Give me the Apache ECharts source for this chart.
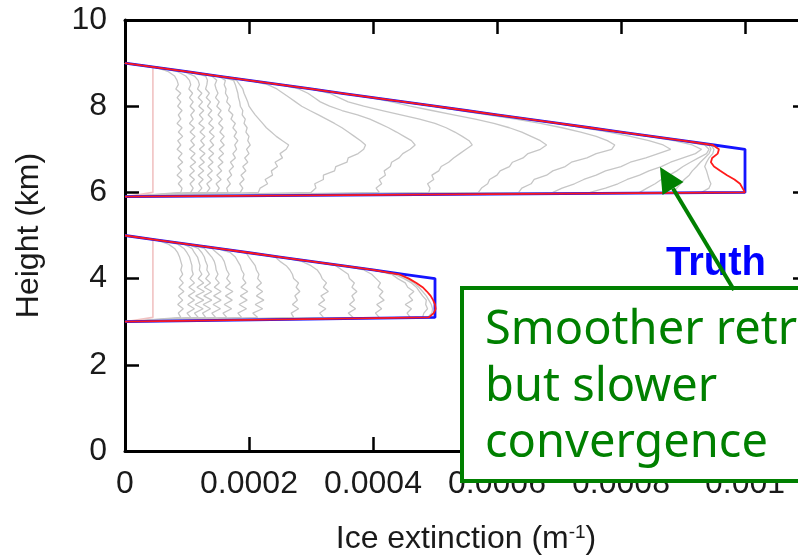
<!DOCTYPE html>
<html>
<head>
<meta charset="utf-8">
<script src="https://cdn.jsdelivr.net/npm/echarts@6/dist/echarts.min.js"></script>
<style>
  html, body { margin: 0; padding: 0; background: #ffffff; overflow: hidden; }
  /* canvas is a bit wider than the window: the plot frame continues past the right edge */
  #chart { width: 830px; height: 560px; }
</style>
</head>
<body>
<div id="chart"></div>
<script>
// Extinction values are in units of 1e-4 m^-1; heights in km.

// ---- Upper cloud layer (5.9 - 9.0 km) ----
const heightsUpper = [5.9, 6.0, 6.1, 6.2, 6.3, 6.4, 6.5, 6.6, 6.7, 6.8, 6.9, 7.0,
  7.1, 7.2, 7.3, 7.4, 7.5, 7.6, 7.7, 7.8, 7.9, 8.0,
  8.1, 8.2, 8.3, 8.4, 8.5, 8.6, 8.7, 8.8, 8.9, 9.0];

const truthUpper = [0, 10, 10, 10, 10, 10, 10, 10, 10, 10, 10, 10,
  9.5, 9.0, 8.5, 8.0, 7.5, 7.0, 6.5, 6.0, 5.5, 5.0,
  4.5, 4.0, 3.5, 3.0, 2.5, 2.0, 1.5, 1.0, 0.5, 0];

const retrievalUpper = [0, 10.0, 9.96, 9.92, 9.83, 9.71, 9.6, 9.5, 9.45, 9.47, 9.56, 9.58,
  9.48, 9.0, 8.5, 8.0, 7.5, 7.0, 6.5, 6.0, 5.5, 5.0,
  4.5, 4.0, 3.5, 3.0, 2.5, 2.0, 1.5, 1.0, 0.5, 0];

const firstGuessUpper = [0, 0.45, 0.45, 0.45, 0.45, 0.45, 0.45, 0.45, 0.45, 0.45, 0.45, 0.45,
  0.45, 0.45, 0.45, 0.45, 0.45, 0.45, 0.45, 0.45, 0.45, 0.45,
  0.45, 0.45, 0.45, 0.45, 0.45, 0.45, 0.45, 0.45, 0.45, 0];

const iterUpper1 = [0, 0.9, 0.92, 0.86, 0.92, 0.84, 0.91, 0.85, 0.93, 0.86, 0.92, 0.84,
  0.9, 0.85, 0.93, 0.86, 0.92, 0.84, 0.9, 0.86, 0.92, 0.85,
  0.9, 0.84, 0.9, 0.82, 0.86, 0.84, 0.8, 0.7, 0.5, 0];
const iterUpper2 = [0, 1.06, 1.1, 1.05, 1.12, 1.04, 1.12, 1.05, 1.14, 1.06, 1.13, 1.04,
  1.12, 1.06, 1.13, 1.05, 1.12, 1.04, 1.1, 1.06, 1.12, 1.05,
  1.1, 1.04, 1.09, 1.03, 1.06, 1.04, 0.98, 0.85, 0.5, 0];
const iterUpper3 = [0, 1.18, 1.24, 1.19, 1.26, 1.18, 1.27, 1.19, 1.28, 1.21, 1.29, 1.2,
  1.28, 1.22, 1.29, 1.21, 1.28, 1.19, 1.26, 1.2, 1.27, 1.19,
  1.25, 1.18, 1.24, 1.17, 1.2, 1.18, 1.12, 0.95, 0.5, 0];
const iterUpper4 = [0, 1.32, 1.37, 1.32, 1.4, 1.33, 1.41, 1.34, 1.42, 1.35, 1.43, 1.35,
  1.43, 1.37, 1.44, 1.36, 1.43, 1.35, 1.41, 1.34, 1.4, 1.33,
  1.38, 1.31, 1.36, 1.3, 1.32, 1.33, 1.3, 1.0, 0.5, 0];
const iterUpper5 = [0, 1.48, 1.52, 1.47, 1.55, 1.48, 1.56, 1.5, 1.58, 1.51, 1.59, 1.52,
  1.6, 1.54, 1.6, 1.53, 1.58, 1.51, 1.57, 1.5, 1.55, 1.48,
  1.52, 1.46, 1.5, 1.47, 1.45, 1.48, 1.4, 1.0, 0.5, 0];
const iterUpper6 = [0, 1.66, 1.64, 1.7, 1.65, 1.72, 1.68, 1.75, 1.7, 1.78, 1.74, 1.8,
  1.77, 1.82, 1.76, 1.8, 1.74, 1.78, 1.71, 1.74, 1.67, 1.7,
  1.64, 1.66, 1.62, 1.63, 1.6, 1.62, 1.5, 1.0, 0.5, 0];
const iterUpper7 = [0, 1.86, 1.9, 1.85, 1.92, 1.87, 1.95, 1.9, 1.98, 1.93, 2.0, 1.96,
  2.02, 1.98, 2.0, 1.95, 1.97, 1.92, 1.94, 1.89, 1.9, 1.86,
  1.85, 1.83, 1.82, 1.8, 1.78, 1.75, 1.5, 1.0, 0.5, 0];
const iterUpper8 = [0, 2.15, 2.18, 2.3, 2.26, 2.38, 2.36, 2.46, 2.42, 2.54, 2.5, 2.6,
  2.64, 2.54, 2.44, 2.36, 2.28, 2.22, 2.16, 2.1, 2.05, 2.0,
  1.98, 1.95, 1.92, 1.9, 1.85, 1.8, 1.5, 1.0, 0.5, 0];
const iterUpper9 = [0, 3.0, 3.08, 3.06, 3.2, 3.2, 3.38, 3.4, 3.58, 3.6, 3.76, 3.85,
  3.88, 3.8, 3.7, 3.6, 3.5, 3.38, 3.25, 3.12, 2.98, 2.85,
  2.75, 2.65, 2.55, 2.45, 2.3, 2.0, 1.5, 1.0, 0.5, 0];
const iterUpper10 = [0, 4.1, 4.05, 4.14, 4.1, 4.2, 4.18, 4.28, 4.3, 4.42, 4.48, 4.6,
  4.68, 4.62, 4.5, 4.38, 4.25, 4.1, 3.95, 3.75, 3.5, 3.3,
  3.15, 3.05, 2.95, 2.8, 2.5, 2.0, 1.5, 1.0, 0.5, 0];
const iterUpper11 = [0, 4.9, 4.92, 4.88, 4.98, 4.95, 5.06, 5.1, 5.22, 5.3, 5.4, 5.5,
  5.6, 5.55, 5.44, 5.32, 5.18, 5.0, 4.75, 4.45, 4.15, 3.85,
  3.6, 3.45, 3.3, 3.0, 2.5, 2.0, 1.5, 1.0, 0.5, 0];
const iterUpper12 = [0, 5.7, 5.75, 5.85, 5.88, 6.0, 6.05, 6.2, 6.25, 6.42, 6.5, 6.7,
  6.8, 6.7, 6.55, 6.4, 6.2, 5.95, 5.65, 5.3, 4.95, 4.6,
  4.3, 3.95, 3.5, 3.0, 2.5, 2.0, 1.5, 1.0, 0.5, 0];
const iterUpper13 = [0, 6.35, 6.4, 6.55, 6.6, 6.8, 6.9, 7.1, 7.2, 7.45, 7.6, 7.85,
  7.9, 7.78, 7.6, 7.35, 7.05, 6.7, 6.3, 5.85, 5.4, 4.95,
  4.5, 4.0, 3.5, 3.0, 2.5, 2.0, 1.5, 1.0, 0.5, 0];
const iterUpper14 = [0, 6.9, 7.05, 7.25, 7.4, 7.6, 7.75, 8.0, 8.15, 8.4, 8.6, 8.8,
  8.68, 8.45, 8.15, 7.8, 7.4, 6.95, 6.48, 6.0, 5.5, 5.0,
  4.5, 4.0, 3.5, 3.0, 2.5, 2.0, 1.5, 1.0, 0.5, 0];
const iterUpper15 = [0, 7.5, 7.75, 7.95, 8.1, 8.3, 8.45, 8.65, 8.8, 9.0, 9.2, 9.3,
  9.15, 8.85, 8.45, 7.98, 7.5, 7.0, 6.5, 6.0, 5.5, 5.0,
  4.5, 4.0, 3.5, 3.0, 2.5, 2.0, 1.5, 1.0, 0.5, 0];
const iterUpper16 = [0, 8.3, 8.42, 8.55, 8.65, 8.78, 8.9, 9.0, 9.12, 9.25, 9.38, 9.42,
  9.35, 8.95, 8.5, 8.0, 7.5, 7.0, 6.5, 6.0, 5.5, 5.0,
  4.5, 4.0, 3.5, 3.0, 2.5, 2.0, 1.5, 1.0, 0.5, 0];
const iterUpper17 = [0, 8.85, 8.9, 8.96, 9.02, 9.1, 9.15, 9.22, 9.28, 9.35, 9.42, 9.45,
  9.42, 9.0, 8.5, 8.0, 7.5, 7.0, 6.5, 6.0, 5.5, 5.0,
  4.5, 4.0, 3.5, 3.0, 2.5, 2.0, 1.5, 1.0, 0.5, 0];
const iterUpper18 = [0, 9.3, 9.42, 9.45, 9.42, 9.4, 9.38, 9.35, 9.38, 9.42, 9.48, 9.5,
  9.45, 9.0, 8.5, 8.0, 7.5, 7.0, 6.5, 6.0, 5.5, 5.0,
  4.5, 4.0, 3.5, 3.0, 2.5, 2.0, 1.5, 1.0, 0.5, 0];

// ---- Lower cloud layer (3.0 - 5.0 km) ----
const heightsLower = [3.0, 3.1, 3.2, 3.3, 3.4, 3.5, 3.6, 3.7, 3.8, 3.9, 4.0,
  4.1, 4.2, 4.3, 4.4, 4.5, 4.6, 4.7, 4.8, 4.9, 5.0];

const truthLower = [0, 5, 5, 5, 5, 5, 5, 5, 5, 5, 5,
  4.5, 4.0, 3.5, 3.0, 2.5, 2.0, 1.5, 1.0, 0.5, 0];
const retrievalLower = [0, 4.9, 4.98, 5.01, 5.0, 4.97, 4.93, 4.87, 4.8, 4.7, 4.58,
  4.42, 4.0, 3.5, 3.0, 2.5, 2.0, 1.5, 1.0, 0.5, 0];
const firstGuessLower = [0, 0.45, 0.45, 0.45, 0.45, 0.45, 0.45, 0.45, 0.45, 0.45, 0.45,
  0.45, 0.45, 0.45, 0.45, 0.45, 0.45, 0.45, 0.45, 0.45, 0];

const iterLower1 = [0, 0.9, 0.86, 0.94, 0.85, 0.93, 0.86, 0.95, 0.87, 0.94, 0.88,
  0.93, 0.9, 0.92, 0.9, 0.88, 0.85, 0.8, 0.7, 0.5, 0];
const iterLower2 = [0, 1.06, 1.0, 1.12, 1.01, 1.12, 1.02, 1.13, 1.03, 1.12, 1.05,
  1.1, 1.08, 1.08, 1.06, 1.04, 1.0, 0.95, 0.85, 0.5, 0];
const iterLower3 = [0, 1.18, 1.12, 1.26, 1.13, 1.27, 1.14, 1.28, 1.16, 1.27, 1.18,
  1.24, 1.2, 1.21, 1.19, 1.17, 1.12, 1.08, 0.95, 0.5, 0];
const iterLower4 = [0, 1.3, 1.25, 1.38, 1.26, 1.4, 1.27, 1.4, 1.28, 1.38, 1.3,
  1.36, 1.32, 1.33, 1.3, 1.28, 1.24, 1.18, 1.0, 0.5, 0];
const iterLower5 = [0, 1.46, 1.4, 1.54, 1.42, 1.55, 1.43, 1.55, 1.44, 1.52, 1.46,
  1.5, 1.47, 1.46, 1.44, 1.4, 1.34, 1.28, 1.0, 0.5, 0];
const iterLower6 = [0, 1.64, 1.58, 1.72, 1.6, 1.73, 1.62, 1.74, 1.62, 1.7, 1.64,
  1.68, 1.64, 1.62, 1.6, 1.56, 1.48, 1.4, 1.0, 0.5, 0];
const iterLower7 = [0, 1.88, 1.82, 1.96, 1.84, 1.97, 1.86, 1.98, 1.87, 1.95, 1.9,
  1.92, 1.88, 1.86, 1.82, 1.78, 1.7, 1.48, 1.0, 0.5, 0];
const iterLower8 = [0, 2.14, 2.06, 2.22, 2.1, 2.24, 2.12, 2.22, 2.12, 2.2, 2.14,
  2.16, 2.12, 2.1, 2.05, 2.0, 1.95, 1.5, 1.0, 0.5, 0];
const iterLower9 = [0, 2.72, 2.68, 2.8, 2.7, 2.78, 2.74, 2.82, 2.76, 2.8, 2.72,
  2.7, 2.66, 2.6, 2.5, 2.42, 2.0, 1.5, 1.0, 0.5, 0];
const iterLower10 = [0, 3.2, 3.14, 3.24, 3.12, 3.22, 3.16, 3.28, 3.2, 3.25, 3.18,
  3.15, 3.1, 3.0, 2.85, 2.5, 2.0, 1.5, 1.0, 0.5, 0];
const iterLower11 = [0, 3.68, 3.6, 3.72, 3.62, 3.7, 3.66, 3.74, 3.66, 3.7, 3.62,
  3.6, 3.5, 3.4, 3.0, 2.5, 2.0, 1.5, 1.0, 0.5, 0];
const iterLower12 = [0, 4.1, 4.04, 4.14, 4.06, 4.18, 4.1, 4.16, 4.08, 4.12, 4.05,
  3.98, 3.85, 3.5, 3.0, 2.5, 2.0, 1.5, 1.0, 0.5, 0];
const iterLower13 = [0, 4.6, 4.55, 4.62, 4.52, 4.64, 4.58, 4.66, 4.56, 4.52, 4.4,
  4.3, 4.0, 3.5, 3.0, 2.5, 2.0, 1.5, 1.0, 0.5, 0];
const iterLower14 = [0, 4.8, 4.82, 4.88, 4.85, 4.86, 4.8, 4.75, 4.7, 4.62, 4.5,
  4.35, 4.0, 3.5, 3.0, 2.5, 2.0, 1.5, 1.0, 0.5, 0];
const iterLower15 = [0, 4.88, 4.95, 4.96, 4.94, 4.9, 4.86, 4.8, 4.74, 4.66, 4.55,
  4.4, 4.0, 3.5, 3.0, 2.5, 2.0, 1.5, 1.0, 0.5, 0];

// ---- Axis ticks ----
const xTicks = [0, 0.0002, 0.0004, 0.0006, 0.0008, 0.001];
const yTicks = [0, 2, 4, 6, 8, 10];

const iterationsUpper = [iterUpper1, iterUpper2, iterUpper3, iterUpper4, iterUpper5, iterUpper6,
  iterUpper7, iterUpper8, iterUpper9, iterUpper10, iterUpper11, iterUpper12, iterUpper13,
  iterUpper14, iterUpper15, iterUpper16, iterUpper17, iterUpper18];
const iterationsLower = [iterLower1, iterLower2, iterLower3, iterLower4, iterLower5, iterLower6,
  iterLower7, iterLower8, iterLower9, iterLower10, iterLower11, iterLower12, iterLower13,
  iterLower14, iterLower15];

const UNIT = 1e-4;
const FONT = '"Liberation Sans", Arial, Helvetica, sans-serif';
const GREEN = '#008000';

function profile(name, heights, values, color, width, z) {
  return {
    type: 'line',
    name: name,
    data: heights.map((h, i) => [values[i] * UNIT, h]),
    symbol: 'none',
    showSymbol: false,
    silent: true,
    animation: false,
    lineStyle: { color: color, width: width },
    z: z
  };
}

const series = [];
iterationsUpper.forEach((v, i) => series.push(profile('iter-upper-' + (i + 1), heightsUpper, v, '#c6c6c6', 1.3, 2)));
iterationsLower.forEach((v, i) => series.push(profile('iter-lower-' + (i + 1), heightsLower, v, '#c6c6c6', 1.3, 2)));
series.push(profile('first-guess-upper', heightsUpper, firstGuessUpper, '#f1c2c2', 1.6, 3));
series.push(profile('first-guess-lower', heightsLower, firstGuessLower, '#f1c2c2', 1.6, 3));
series.push(profile('truth-upper', heightsUpper, truthUpper, '#1414ff', 2.8, 4));
series.push(profile('truth-lower', heightsLower, truthLower, '#1414ff', 2.8, 4));
series.push(profile('retrieval-upper', heightsUpper, retrievalUpper, '#ff1a1a', 1.8, 5));
series.push(profile('retrieval-lower', heightsLower, retrievalLower, '#ff1a1a', 1.8, 5));

const axisLine = { show: true, onZero: false, lineStyle: { color: '#000', width: 3 } };
const axisTick = { show: true, inside: true, length: 14, lineStyle: { color: '#000', width: 2.5 } };

const chart = echarts.init(document.getElementById('chart'), null, { renderer: 'canvas' });
chart.setOption({
  animation: false,
  backgroundColor: '#ffffff',
  grid: { left: 125, top: 20, width: 682, height: 432, containLabel: false },
  xAxis: [{
    type: 'value', position: 'bottom',
    min: xTicks[0], max: 0.0011, interval: xTicks[1] - xTicks[0],
    axisLine: axisLine, axisTick: axisTick,
    splitLine: { show: false },
    axisLabel: {
      margin: 17, fontSize: 32, fontFamily: FONT, color: '#1a1a1a', showMaxLabel: false,
      formatter: v => String(+v.toFixed(4))
    },
    name: '{a|Ice extinction (m}{s|-1}{a|)}',
    nameLocation: 'middle', nameGap: 72,
    nameTextStyle: {
      rich: {
        a: { fontSize: 32, fontFamily: FONT, color: '#1a1a1a' },
        s: { fontSize: 19, fontFamily: FONT, color: '#1a1a1a', verticalAlign: 'top' }
      }
    }
  }, {
    type: 'value', position: 'top',
    min: xTicks[0], max: 0.0011, interval: xTicks[1] - xTicks[0],
    axisLine: axisLine, axisTick: axisTick,
    splitLine: { show: false }, axisLabel: { show: false }
  }],
  yAxis: [{
    type: 'value', position: 'left',
    min: yTicks[0], max: yTicks[yTicks.length - 1], interval: yTicks[1] - yTicks[0],
    axisLine: axisLine, axisTick: axisTick,
    splitLine: { show: false },
    axisLabel: { margin: 18, fontSize: 32, fontFamily: FONT, color: '#1a1a1a' },
    name: 'Height (km)', nameLocation: 'middle', nameGap: 80, nameRotate: 90,
    nameTextStyle: { fontSize: 32, fontFamily: FONT, color: '#1a1a1a' }
  }, {
    type: 'value', position: 'right',
    min: yTicks[0], max: yTicks[yTicks.length - 1], interval: yTicks[1] - yTicks[0],
    axisLine: axisLine, axisTick: axisTick,
    splitLine: { show: false }, axisLabel: { show: false }
  }],
  series: series,
  graphic: [
    { type: 'text', x: 716, y: 264, z: 100,
      style: { text: 'Truth', fontSize: 40, fontWeight: 'bold', fontFamily: FONT, fill: '#0000ff', align: 'center', verticalAlign: 'middle' } },
    { type: 'rect', z: 101, shape: { x: 462, y: 288, width: 420, height: 193 },
      style: { fill: '#ffffff', stroke: GREEN, lineWidth: 4 } },
    { type: 'text', x: 485, y: 331, z: 102,
      style: { text: 'Smoother retrievals', fontSize: 47, fontFamily: '"Noto Sans", sans-serif', fill: GREEN, verticalAlign: 'middle' } },
    { type: 'text', x: 485, y: 388, z: 102,
      style: { text: 'but slower', fontSize: 47, fontFamily: '"Noto Sans", sans-serif', fill: GREEN, verticalAlign: 'middle' } },
    { type: 'text', x: 485, y: 444, z: 102,
      style: { text: 'convergence', fontSize: 47, fontFamily: '"Noto Sans", sans-serif', fill: GREEN, verticalAlign: 'middle' } },
    { type: 'line', z: 103, shape: { x1: 734, y1: 290, x2: 673, y2: 188.5 },
      style: { stroke: GREEN, lineWidth: 4 } },
    { type: 'polygon', z: 103, shape: { points: [[660, 167], [683.5, 182], [662.5, 195]] },
      style: { fill: GREEN } }
  ]
});
</script>
</body>
</html>
